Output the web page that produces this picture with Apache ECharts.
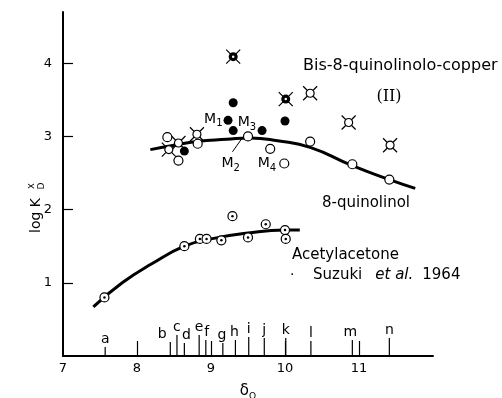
<!DOCTYPE html>
<html>
<head>
<meta charset="utf-8">
<script src="https://cdn.jsdelivr.net/npm/echarts@6/dist/echarts.min.js"></script>
<style>
  html, body { margin: 0; padding: 0; background: #fff; }
  #chart { width: 502px; height: 398px; }
</style>
</head>
<body>
<div id="chart"></div>
<script>
// smooth curves drawn through the points
const quinolinolCurveX = [8.18, 8.5, 8.81, 9.21, 9.53, 9.9, 10.34, 10.91, 11.41, 11.76];
const quinolinolCurveY = [2.82, 2.88, 2.93, 2.96, 2.98, 2.94, 2.85, 2.6, 2.41, 2.29];
const acacCurveX = [7.41, 7.8, 8.2, 8.64, 9.0, 9.5, 10.0, 10.2];
const acacCurveY = [0.67, 1.0, 1.26, 1.5, 1.6, 1.68, 1.72, 1.72];

// 8-quinolinol, open circles
const quinolinolX = [8.41, 8.56, 8.82, 9.5, 9.8, 9.99, 10.34, 10.91, 11.41];
const quinolinolY = [2.99, 2.67, 2.9, 3.0, 2.83, 2.63, 2.93, 2.62, 2.41];

// acetylacetone, circles with a dot
const acacX = [7.56, 8.64, 8.85, 8.94, 9.14, 9.29, 9.5, 9.74, 10.0, 10.01];
const acacY = [0.8, 1.5, 1.6, 1.6, 1.58, 1.91, 1.62, 1.8, 1.72, 1.6];

// bis-8-quinolinolo-copper(II)
const copperOpenX = [8.43, 8.56, 8.81, 10.34, 10.86, 11.42];
const copperOpenY = [2.82, 2.91, 3.03, 3.59, 3.19, 2.88];
const copperFilledX = [9.3, 10.01];
const copperFilledY = [4.09, 3.51];

// filled points (M series)
const filledX = [9.3, 9.23, 9.3, 9.69, 10.0, 8.64];
const filledY = [3.46, 3.22, 3.08, 3.08, 3.21, 2.8];

// M2 leader line
const leaderFrom = [9.43, 2.99];
const leaderTo = [9.29, 2.79];

// solvents along the axis
const solventX = [7.57, 8.45, 8.54, 8.64, 8.84, 8.93, 9.16, 9.33, 9.51, 9.72, 10.01, 10.35, 10.91, 11.41];
const solventLabels = ['a', 'b', 'c', 'd', 'e', 'f', 'g', 'h', 'i', 'j', 'k', 'l', 'm', 'n'];

const xTicks = [8, 9, 10, 11];
const xTickLabels = [7, 8, 9, 10, 11];
const yTickLabels = [1, 2, 3, 4];

// styling for the solvent markers (pixel lengths, label nudges)
const solventLen = [9, 14, 21, 13, 21, 16, 13, 16, 19, 18, 18, 15, 16, 18];
const solventDx = [0, -8, 0, 2, 0, 1, -1, -1, 0, 0, 0, 0, -2, 0];

const FONT = 'DejaVu Sans';
const zip = (xs, ys) => xs.map((x, i) => [x, ys[i]]);
const subRich = {
  m: { fontSize: 14, fontFamily: FONT, color: '#000' },
  s: { fontSize: 10, fontFamily: FONT, color: '#000', padding: [9, 0, 0, 0] }
};
const mLabel = (n, extra) => Object.assign({
  show: true,
  formatter: '{m|M}{s|' + n + '}',
  rich: subRich
}, extra);

const chart = echarts.init(document.getElementById('chart'));

const quinolinolData = zip(quinolinolX, quinolinolY).map((v, i) => {
  if (i === 5) return { value: v, label: mLabel(4, { position: 'left', distance: 3 }) };
  return v;
});
const filledData = zip(filledX, filledY).map((v, i) => {
  if (i === 1) return { value: v, label: mLabel(1, { position: 'left', distance: 1, offset: [0, -1] }) };
  if (i === 2) return { value: v, label: mLabel(3, { position: 'right', distance: 0, offset: [0, -8] }) };
  return v;
});

const xPath = 'path://M0,0L10,10M10,0L0,10';
const dot = (color, size, z) => ({ symbol: 'circle', symbolSize: size, z: z, itemStyle: { color: color, opacity: 1 } });

const option = {
  animation: false,
  grid: { left: 63, right: 69, top: 12, bottom: 42, containLabel: false, outerBoundsMode: 'none' },
  xAxis: {
    type: 'value',
    min: 7,
    max: 12,
    interval: 1,
    axisLine: { onZero: false, lineStyle: { color: '#000', width: 2 } },
    axisTick: { inside: true, length: 15, customValues: xTicks, lineStyle: { color: '#000', width: 1.2 } },
    axisLabel: { customValues: xTickLabels, color: '#000', fontSize: 13, fontFamily: FONT, margin: 6 },
    splitLine: { show: false },
    name: '{a|δ}{b|O}',
    nameLocation: 'middle',
    nameGap: 26,
    nameTextStyle: {
      rich: {
        a: { fontSize: 15, fontFamily: FONT, color: '#000' },
        b: { fontSize: 9, fontFamily: FONT, color: '#000', padding: [10, 0, 0, 0] }
      }
    }
  },
  yAxis: {
    type: 'value',
    min: 0,
    max: 4.7,
    interval: 1,
    axisLine: { onZero: false, lineStyle: { color: '#000', width: 2 } },
    axisTick: { inside: true, length: 10, customValues: yTickLabels, lineStyle: { color: '#000', width: 1.2 } },
    axisLabel: { customValues: yTickLabels, color: '#000', fontSize: 13, fontFamily: FONT, margin: 11 },
    splitLine: { show: false }
  },
  graphic: [
    { type: 'text', x: 36, y: 198, rotation: Math.PI / 2,
      style: { text: 'log K', font: '14px "DejaVu Sans"', fill: '#000', align: 'right', verticalAlign: 'middle' } },
    { type: 'text', x: 31, y: 186, rotation: Math.PI / 2,
      style: { text: 'x', font: '10px "DejaVu Sans"', fill: '#000', align: 'center', verticalAlign: 'middle' } },
    { type: 'text', x: 42, y: 186, rotation: Math.PI / 2,
      style: { text: 'D', font: '9px "DejaVu Sans"', fill: '#000', align: 'center', verticalAlign: 'middle' } },
    { type: 'text', x: 303, y: 66,
      style: { text: 'Bis-8-quinolinolo-copper', font: '16px "DejaVu Sans"', fill: '#000', verticalAlign: 'middle' } },
    { type: 'text', x: 389, y: 97,
      style: { text: '(II)', font: '16px "DejaVu Serif"', fill: '#000', align: 'center', verticalAlign: 'middle' } },
    { type: 'text', x: 322, y: 203,
      style: { text: '8-quinolinol', font: '15px "DejaVu Sans"', fill: '#000', verticalAlign: 'middle' } },
    { type: 'text', x: 292, y: 255,
      style: { text: 'Acetylacetone', font: '15px "DejaVu Sans"', fill: '#000', verticalAlign: 'middle' } },
    { type: 'text', x: 290, y: 275,
      style: { text: '·', font: '14px "DejaVu Sans"', fill: '#000', verticalAlign: 'middle' } },
    { type: 'text', x: 313, y: 275,
      style: {
        text: '{r|Suzuki}{i|et al.}{y|1964}',
        verticalAlign: 'middle',
        rich: {
          r: { font: '15px "DejaVu Sans"', fill: '#000' },
          i: { font: 'italic 15px "DejaVu Sans"', fill: '#000', padding: [0, 0, 0, 13] },
          y: { font: '15px "DejaVu Sans"', fill: '#000', padding: [0, 0, 0, 9] }
        }
      } }
  ],
  series: [
    {
      type: 'line', data: zip(quinolinolCurveX, quinolinolCurveY), smooth: 0.5,
      showSymbol: false, lineStyle: { color: '#000', width: 3 }, z: 1, silent: true
    },
    {
      type: 'line', data: zip(acacCurveX, acacCurveY), smooth: 0.5,
      showSymbol: false, lineStyle: { color: '#000', width: 3 }, z: 1, silent: true
    },
    {
      type: 'scatter', data: zip(acacX, acacY), symbol: 'circle', symbolSize: 9,
      itemStyle: { color: '#fff', borderColor: '#000', borderWidth: 1.2, opacity: 1 }, z: 3
    },
    Object.assign({ type: 'scatter', data: zip(acacX, acacY) }, dot('#000', 2.5, 4)),
    {
      type: 'scatter', data: zip(copperOpenX, copperOpenY), symbol: xPath, symbolSize: 14,
      itemStyle: { color: 'transparent', borderColor: '#000', borderWidth: 1.2, opacity: 1 }, z: 3
    },
    {
      type: 'scatter', data: zip(copperOpenX, copperOpenY), symbol: 'circle', symbolSize: 8,
      itemStyle: { color: '#fff', borderColor: '#000', borderWidth: 1.2, opacity: 1 }, z: 4
    },
    {
      type: 'scatter', data: zip(copperFilledX, copperFilledY), symbol: xPath, symbolSize: 14,
      itemStyle: { color: 'transparent', borderColor: '#000', borderWidth: 1.2, opacity: 1 }, z: 3
    },
    Object.assign({ type: 'scatter', data: zip(copperFilledX, copperFilledY) }, dot('#000', 9, 4)),
    Object.assign({ type: 'scatter', data: zip(copperFilledX, copperFilledY) }, dot('#fff', 2.5, 5)),
    {
      type: 'scatter', data: quinolinolData, symbol: 'circle', symbolSize: 9,
      itemStyle: { color: '#fff', borderColor: '#000', borderWidth: 1.2, opacity: 1 }, z: 5,
      markLine: {
        silent: true, symbol: ['none', 'none'],
        lineStyle: { color: '#000', width: 1, type: 'solid', opacity: 1 },
        label: { show: true, position: 'end', distance: 3, formatter: '{m|M}{s|2}', rich: subRich },
        data: [[{ coord: leaderFrom }, { coord: leaderTo }]]
      }
    },
    Object.assign({ type: 'scatter', data: filledData }, dot('#000', 9, 5)),
    {
      type: 'custom',
      data: solventX.map((x, i) => [x, i]),
      z: 2,
      silent: true,
      renderItem: (params, api) => {
        const i = api.value(1);
        const p = api.coord([api.value(0), 0]);
        const top = p[1] - solventLen[i];
        return {
          type: 'group',
          children: [
            { type: 'line', shape: { x1: p[0], y1: p[1], x2: p[0], y2: top },
              style: { stroke: '#000', lineWidth: 1.2 } },
            { type: 'text', x: p[0] + solventDx[i], y: top - 1,
              style: { text: solventLabels[i], font: '14px "DejaVu Sans"', fill: '#000',
                align: 'center', verticalAlign: 'bottom' } }
          ]
        };
      }
    }
  ]
};

chart.setOption(option);
</script>
</body>
</html>
